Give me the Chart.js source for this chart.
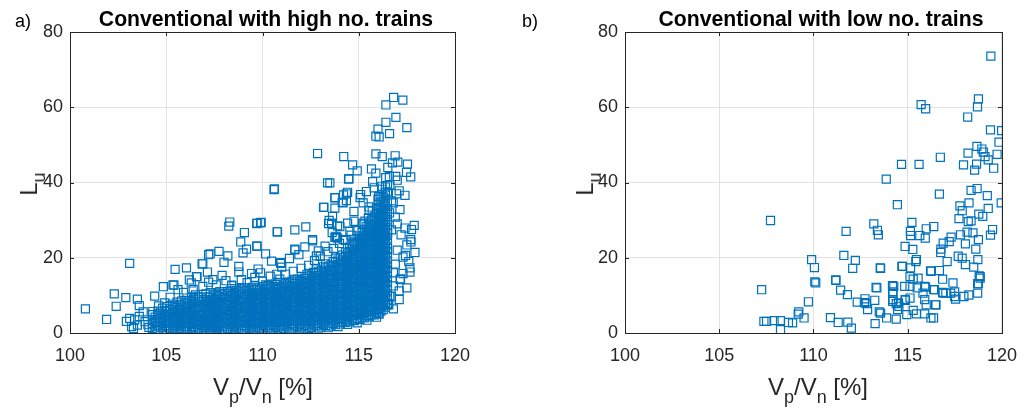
<!DOCTYPE html>
<html>
<head>
<meta charset="utf-8">
<script src="https://cdn.jsdelivr.net/npm/chart.js@4.4.0/dist/chart.umd.min.js"></script>
<style>
  body { margin: 0; width: 1029px; height: 412px; background: #fff; position: relative; overflow: hidden;
         font-family: "Liberation Sans", Arial, sans-serif; color: #262626; }
  .box { position: absolute; top: 0; height: 412px; }
  #boxA { left: 0; width: 515px; }
  #boxB { left: 515px; width: 514px; }
  .txt { position: absolute; white-space: nowrap; line-height: 1; }
  .panel { font-size: 18px; color: #000; top: 12px; }
  .title { font-size: 21.2px; font-weight: bold; color: #000; top: 8px; transform: translateX(-50%); }
  .xlab { font-size: 24px; top: 375px; transform: translateX(-50%); }
  .ylab { font-size: 24px; transform: translate(-50%, -50%) rotate(-90deg); }
  sub { font-size: 18px; vertical-align: -8px; line-height: 0; }
</style>
</head>
<body>
<div class="box" id="boxA"><canvas id="chartA"></canvas></div>
<div class="box" id="boxB"><canvas id="chartB"></canvas></div>

<div class="txt panel" style="left:15px">a)</div>
<div class="txt panel" style="left:522px">b)</div>
<div class="txt title" style="left:266px">Conventional with high no. trains</div>
<div class="txt title" style="left:821px">Conventional with low no. trains</div>
<div class="txt ylab" style="left:29px; top:184px">L<sub>u</sub></div>
<div class="txt ylab" style="left:585px; top:184px">L<sub>u</sub></div>
<div class="txt xlab" style="left:263px">V<sub>p</sub>/V<sub>n</sub> [%]</div>
<div class="txt xlab" style="left:818px">V<sub>p</sub>/V<sub>n</sub> [%]</div>

<script>
// axis ticks
const xTicks = [100, 105, 110, 115, 120];
const yTicks = [0, 20, 40, 60, 80];

// a) high no. trains - scattered points [Vp/Vn, Lu]
const highSparse = [
  [100.8,6.4],[101.9,3.6],[102.3,10.4],[102.4,7.1],[102.9,9.4],[103.5,9.0],[103.6,7.3],[103.1,18.5],
  [104.4,9.8],[104.85,12.3],[105.46,16.9],[106.05,17.3],[105.4,12.7],[106.6,15.0],[106.9,18.4],[107.2,20.8],
  [103.2,1.7],[103.36,3.5],[102.93,3.1],[103.6,4.4],[104.05,2.2],[104.3,5.7],[104.92,8.0],[105.35,12.8],
  [105.61,11.5],[106.3,13.3],[106.57,15.0],[103.1,3.9],[103.3,1.2],[103.9,3.0],[104.1,1.5],[103.8,5.6],[103.5,2.1],
  [110.6,38.1],[108.3,29.5],[108.25,28.4],[109.7,29.1],[109.9,29.3],[109.06,26.7],[110.76,26.9],[111.68,27.4],
  [112.25,28.2],[108.87,24.2],[109.17,22.3],[109.7,23.1],[112.6,24.5],[113.25,23.1],[111.68,22.1],[107.28,21.0],
  [107.74,21.7],[108.2,20.5],[108.0,18.8],[106.86,18.4],[108.99,21.3],[110.16,21.0],[110.47,19.1],[110.95,18.7],
  [109.77,17.0],[108.77,17.7],[108.77,16.2],[113.17,33.4],[113.64,31.0],[113.43,29.1],[113.81,25.7],[112.8,20.5],
  [111.89,20.8],[110.74,15.6],[107.14,16.2],[107.42,14.2],[108.39,12.7],[109.43,15.8],
  [112.86,47.7],[114.22,46.9],[114.68,44.7],[114.92,43.1],[113.38,39.9],[114.47,40.9],[110.62,38.3],
  [116.81,62.6],[117.29,61.9],[116.41,60.6],[116.93,57.3],[116.41,56.0],[117.5,54.6],[116.0,54.2],[115.89,52.3],
  [116.06,52.1],[116.6,53.0],[115.89,47.6],[116.22,46.9],[116.89,47.1],[115.66,43.6],[116.51,44.0],[116.75,45.2],
  [117.03,45.4],[117.53,44.9],[115.89,42.5],[117.48,42.7],[116.59,41.6],[116.92,41.6],[117.7,41.5],[117.0,40.6],
  [115.72,40.2],[114.49,41.0],[113.5,39.9],
  [117.92,21.4],[117.66,17.3],[117.66,16.2],[117.17,14.4],[117.1,11.2],[116.7,9.7],[116.56,7.5],[116.06,5.0],
  [117.5,23.4],[117.7,24.8],[117.88,28.6],[117.74,27.5],[117.4,27.9],[117.4,36.6],[116.96,37.0],[116.79,34.6],
  [117.14,32.8],[116.05,36.3],[115.54,32.6],[115.23,34.6],[115.1,36.8],[114.75,32.3],[114.36,37.0],[114.19,34.6],
  [113.76,35.9],[113.76,33.2],[113.59,29.2],[114.02,28.3],[114.75,29.7],[115.32,29.7],[115.93,26.1],[113.85,25.5],
  [114.54,27.0],[114.8,23.9],[113.77,36.0],[114.21,36.7],[114.42,37.4],[113.19,33.4],[114.14,34.7],[114.36,35.2],
  [115.07,36.0],[115.4,37.6],[115.53,33.5],[116.03,36.3],[113.46,29.9],[113.9,28.5],[114.42,29.2],[115.23,29.2],
  [109.72,29.2],[109.93,29.4],[110.78,26.9],[112.6,24.8],[113.76,25.4],[114.19,24.8],[113.62,26.7],[115.98,26.3],
  [116.5,26.6],[117.71,24.2],[117.43,20.6],[117.15,14.2],[116.61,9.7],[116.53,7.8],[110.95,18.5],[109.72,23.1],
  [111.68,22.3],[116.8,12.5],[116.9,18.3],[117.0,22.0],[117.2,26.1],[117.3,15.8],[116.7,27.4],[116.9,30.8],
  [117.1,8.9],[116.8,6.4],[117.3,20.2],[117.6,19.0],[117.5,12.0],[116.6,31.9],[116.7,35.1],[117.1,37.8],
  [116.62,39.4],[116.4,41.3],[116.2,39.0],[115.8,38.6],[116.8,16.0],[117.0,29.0],
  [105.2,9.5],[105.9,10.8],[106.4,11.6],[106.9,12.4],[107.2,13.5],[107.6,12.8],[108.1,13.9],[108.4,12.6],
  [108.9,14.2],[109.2,13.4],[109.6,14.8],[110.0,13.8],[110.4,15.1],[110.9,14.3],[111.2,15.6],[111.6,16.4],
  [112.0,17.2],[112.4,18.0],[112.7,19.3],[113.0,20.4],[113.4,21.6],[113.7,22.5],[114.0,23.8],[114.3,24.6],
  [114.6,26.0],[114.9,27.2],[115.2,28.9],[115.5,30.6],[115.7,32.4],[116.0,35.5],[116.2,38.2],[106.2,14.1],
  [107.9,15.3],[109.9,16.0],[111.0,17.5],[112.9,21.8],[113.9,25.2],[104.6,7.2],[111.4,19.8],[112.2,22.9]
];

// a) the dense cloud, column by column: Vp/Vn of each column and its Lu values
const highCoreV = [
  104.28, 104.57, 104.81, 105.04, 105.33, 105.56, 105.79, 106.07, 106.31, 106.52,
  106.83, 107.06, 107.29, 107.57, 107.78, 108.04, 108.32, 108.55, 108.77, 109.06,
  109.31, 109.53, 109.82, 110.04, 110.29, 110.56, 110.78, 111.07, 111.28, 111.54,
  111.81, 112.03, 112.31, 112.54, 112.79, 113.06, 113.28, 113.56, 113.79, 114.04,
  114.31, 114.53, 114.78, 115.06, 115.29, 115.54, 115.81, 116.03, 116.27, 116.49
];
const highCoreL = [
  [1.2, 2.5, 3.4, 4.9],
  [0.9, 2.1, 3.2, 4.6, 5.8],
  [1.5, 2.6, 4.0, 5.1, 6.6],
  [0.8, 1.9, 3.2, 4.3, 5.7, 7.0],
  [1.3, 2.4, 3.8, 5.1, 6.2, 7.7],
  [0.7, 1.9, 3.0, 4.4, 5.5, 6.8, 8.2],
  [1.1, 2.2, 3.6, 4.8, 6.0, 7.4, 8.5],
  [0.6, 1.8, 2.9, 4.1, 5.5, 6.7, 7.9, 9.3],
  [1.0, 2.3, 3.4, 4.6, 5.9, 7.3, 8.4, 9.6],
  [0.5, 1.6, 2.9, 4.0, 5.3, 6.5, 7.9, 9.0, 10.1],
  [0.9, 2.0, 3.3, 4.7, 5.8, 7.0, 8.4, 9.5],
  [0.4, 1.6, 2.7, 3.9, 5.2, 6.6, 7.7, 8.9, 10.4],
  [0.8, 2.0, 3.3, 4.4, 5.7, 7.1, 8.2, 9.5, 10.7],
  [0.5, 1.7, 2.8, 4.2, 5.3, 6.6, 8.0, 9.1, 10.3],
  [0.9, 2.1, 3.5, 4.6, 5.9, 7.2, 8.3, 9.7, 11.0],
  [0.6, 1.8, 3.0, 4.3, 5.6, 6.7, 8.0, 9.4, 10.5],
  [1.0, 2.2, 3.5, 4.8, 6.0, 7.4, 8.5, 9.8, 11.2],
  [0.7, 1.9, 3.2, 4.4, 5.6, 6.9, 8.2, 9.3, 10.7, 11.8],
  [1.1, 2.4, 3.5, 4.9, 6.2, 7.3, 8.6, 10.0, 11.1],
  [0.8, 2.0, 3.3, 4.5, 5.7, 7.0, 8.3, 9.5, 10.9, 12.0],
  [1.2, 2.4, 3.7, 5.0, 6.3, 7.5, 8.8, 10.0, 11.3],
  [0.9, 2.2, 3.3, 4.6, 5.9, 7.1, 8.4, 9.7, 10.8, 12.2],
  [1.3, 2.5, 3.8, 5.1, 6.3, 7.7, 8.9, 10.1, 11.4],
  [1.0, 2.2, 3.5, 4.7, 5.9, 7.2, 8.5, 9.6, 11.0, 12.3],
  [1.4, 2.7, 3.9, 5.1, 6.4, 7.7, 9.0, 10.3, 11.5, 12.6],
  [1.1, 2.3, 3.6, 4.8, 6.1, 7.3, 8.6, 9.8, 11.1, 12.4],
  [1.5, 2.8, 4.0, 5.3, 6.5, 7.8, 9.1, 10.3, 11.6, 12.9],
  [1.2, 2.4, 3.7, 4.9, 6.2, 7.4, 8.7, 9.9, 11.2, 12.5],
  [1.6, 2.9, 4.1, 5.4, 6.6, 7.9, 9.2, 10.4, 11.7, 13.0],
  [1.3, 2.5, 3.8, 5.0, 6.2, 7.5, 8.8, 10.0, 11.3, 12.6, 13.8],
  [1.7, 3.0, 4.2, 5.5, 6.8, 8.0, 9.3, 10.6, 11.8, 13.1, 14.3],
  [1.4, 2.6, 3.8, 5.1, 6.3, 7.6, 8.9, 10.1, 11.4, 12.7, 14.0],
  [1.8, 3.1, 4.3, 5.6, 6.8, 8.1, 9.4, 10.6, 11.9, 13.2, 14.5, 15.6],
  [1.5, 2.7, 3.9, 5.2, 6.4, 7.7, 9.0, 10.2, 11.5, 12.8, 14.1, 15.3],
  [1.9, 3.2, 4.4, 5.7, 6.9, 8.2, 9.5, 10.7, 12.0, 13.3, 14.6, 15.9, 17.0],
  [1.6, 2.8, 4.0, 5.3, 6.5, 7.8, 9.1, 10.3, 11.6, 12.9, 14.2, 15.4, 16.7],
  [2.0, 3.3, 4.5, 5.8, 7.0, 8.3, 9.6, 10.8, 12.1, 13.4, 14.7, 16.0, 17.3, 18.4],
  [1.8, 3.0, 4.2, 5.5, 6.7, 8.0, 9.3, 10.5, 11.8, 13.1, 14.4, 15.6, 16.9, 18.1],
  [2.2, 3.5, 4.7, 6.0, 7.2, 8.5, 9.8, 11.0, 12.3, 13.6, 14.9, 16.2, 17.5, 18.8, 19.9],
  [2.4, 3.6, 4.8, 6.1, 7.3, 8.6, 9.9, 11.1, 12.4, 13.7, 15.0, 16.2, 17.5, 18.7, 20.0],
  [2.8, 4.0, 5.3, 6.5, 7.8, 9.0, 10.3, 11.5, 12.8, 14.0, 15.3, 16.5, 17.8, 19.0, 20.3, 21.5],
  [3.0, 4.2, 5.5, 6.7, 8.0, 9.2, 10.5, 11.7, 13.0, 14.2, 15.5, 16.7, 18.0, 19.2, 20.5, 21.7, 22.8],
  [3.3, 4.6, 5.8, 7.1, 8.3, 9.6, 10.8, 12.1, 13.3, 14.6, 15.8, 17.1, 18.3, 19.6, 20.8, 22.1, 23.3, 24.4],
  [3.6, 4.9, 6.1, 7.4, 8.6, 9.9, 11.1, 12.4, 13.6, 14.9, 16.1, 17.4, 18.6, 19.9, 21.1, 22.4, 23.6, 24.9, 25.8],
  [4.0, 5.2, 6.5, 7.7, 9.0, 10.2, 11.5, 12.7, 14.0, 15.2, 16.5, 17.7, 19.0, 20.2, 21.5, 22.7, 24.0, 25.2, 26.5, 27.5],
  [4.3, 5.6, 6.8, 8.1, 9.3, 10.6, 11.8, 13.1, 14.3, 15.6, 16.8, 18.1, 19.3, 20.6, 21.8, 23.1, 24.3, 25.6, 26.8, 28.1, 29.2],
  [4.8, 6.0, 7.3, 8.5, 9.8, 11.0, 12.3, 13.5, 14.8, 16.0, 17.3, 18.5, 19.8, 21.0, 22.3, 23.5, 24.8, 26.0, 27.3, 28.5, 29.8, 31.0],
  [5.3, 6.5, 7.8, 9.0, 10.3, 11.5, 12.8, 14.0, 15.3, 16.5, 17.8, 19.0, 20.3, 21.5, 22.8, 24.0, 25.3, 26.5, 27.8, 29.0, 30.3, 31.5, 32.8, 34.0],
  [6.2, 7.4, 8.7, 9.9, 11.2, 12.4, 13.7, 14.9, 16.2, 17.4, 18.7, 19.9, 21.2, 22.4, 23.7, 24.9, 26.2, 27.4, 28.7, 29.9, 31.2, 32.4, 33.7, 35.0, 36.2],
  [7.5, 8.8, 10.0, 11.3, 12.5, 13.8, 15.0, 16.3, 17.5, 18.8, 20.0, 21.3, 22.5, 23.8, 25.0, 26.3, 27.5, 28.8, 30.1, 31.5, 33.0, 34.8, 37.5, 39.2]
];

// a) second pass through the cloud, in between the columns above
const highFillV = [
  104.42, 104.69, 104.93, 105.18, 105.44, 105.68, 105.93, 106.19, 106.41, 106.67,
  106.95, 107.17, 107.43, 107.67, 107.91, 108.18, 108.43, 108.66, 108.92, 109.18,
  109.42, 109.67, 109.93, 110.17, 110.42, 110.67, 110.92, 111.17, 111.41, 111.67,
  111.92, 112.17, 112.42, 112.66, 112.92, 113.17, 113.42, 113.67, 113.92, 114.17,
  114.42, 114.66, 114.92, 115.17, 115.42, 115.67, 115.92, 116.15, 116.38
];
const highFillL = [
  [0.6, 1.8, 3.0, 4.2],
  [1.4, 2.7, 3.9, 5.3],
  [0.5, 2.0, 3.3, 4.6, 5.9],
  [1.3, 2.6, 3.8, 5.0, 6.4],
  [0.6, 1.9, 3.1, 4.5, 5.7, 7.0],
  [1.2, 2.5, 3.7, 4.9, 6.2, 7.5],
  [0.5, 1.7, 2.9, 4.2, 5.4, 6.7, 8.0],
  [1.2, 2.4, 3.6, 4.8, 6.1, 7.3, 8.6],
  [0.5, 1.7, 2.9, 4.1, 5.3, 6.6, 7.8, 9.0],
  [1.1, 2.3, 3.5, 4.7, 5.9, 7.2, 8.4, 9.6],
  [0.4, 1.5, 2.7, 3.9, 5.2, 6.4, 7.7, 8.9],
  [1.0, 2.2, 3.4, 4.6, 5.8, 7.1, 8.4, 9.6],
  [0.4, 1.5, 2.7, 3.9, 5.1, 6.4, 7.6, 8.9, 10.1],
  [1.1, 2.3, 3.5, 4.8, 6.0, 7.3, 8.5, 9.8],
  [0.5, 1.6, 2.8, 4.0, 5.3, 6.5, 7.8, 9.1, 10.3],
  [1.2, 2.4, 3.6, 4.9, 6.1, 7.4, 8.7, 9.9, 11.0],
  [0.5, 1.6, 2.9, 4.1, 5.4, 6.7, 7.9, 9.2, 10.4],
  [1.3, 2.5, 3.8, 5.0, 6.3, 7.5, 8.8, 10.1, 11.3],
  [0.6, 1.8, 3.0, 4.3, 5.5, 6.8, 8.0, 9.3, 10.5, 11.7],
  [1.4, 2.6, 3.9, 5.1, 6.4, 7.6, 8.9, 10.2, 11.4],
  [0.6, 1.8, 3.1, 4.3, 5.6, 6.9, 8.1, 9.4, 10.6, 11.9],
  [1.5, 2.8, 4.0, 5.2, 6.5, 7.8, 9.0, 10.3, 11.6],
  [0.7, 1.9, 3.1, 4.4, 5.6, 6.9, 8.2, 9.4, 10.7, 11.9],
  [1.6, 2.9, 4.1, 5.3, 6.6, 7.9, 9.1, 10.4, 11.7, 12.8],
  [0.8, 2.0, 3.3, 4.5, 5.8, 7.1, 8.3, 9.6, 10.9, 12.1],
  [1.7, 2.9, 4.2, 5.4, 6.7, 8.0, 9.2, 10.5, 11.8, 13.0],
  [0.9, 2.1, 3.4, 4.6, 5.9, 7.2, 8.4, 9.7, 11.0, 12.2],
  [1.8, 3.0, 4.3, 5.5, 6.8, 8.1, 9.3, 10.6, 11.9, 13.2],
  [1.0, 2.2, 3.5, 4.7, 6.0, 7.3, 8.5, 9.8, 11.1, 12.3, 13.5],
  [1.9, 3.1, 4.4, 5.6, 6.9, 8.2, 9.4, 10.7, 12.0, 13.2, 14.2],
  [1.1, 2.3, 3.6, 4.8, 6.1, 7.4, 8.6, 9.9, 11.2, 12.4, 13.7],
  [2.0, 3.2, 4.5, 5.7, 7.0, 8.3, 9.5, 10.8, 12.1, 13.4, 14.6],
  [1.2, 2.4, 3.7, 4.9, 6.2, 7.5, 8.7, 10.0, 11.3, 12.5, 13.8, 15.1],
  [2.1, 3.3, 4.6, 5.8, 7.1, 8.4, 9.6, 10.9, 12.2, 13.5, 14.8, 16.1],
  [1.3, 2.5, 3.8, 5.0, 6.3, 7.6, 8.8, 10.1, 11.4, 12.7, 14.0, 15.3, 16.4],
  [2.2, 3.4, 4.7, 5.9, 7.2, 8.5, 9.7, 11.0, 12.3, 13.6, 14.9, 16.1, 17.6],
  [1.4, 2.6, 3.9, 5.1, 6.4, 7.7, 8.9, 10.2, 11.5, 12.8, 14.1, 15.3, 16.6, 17.8],
  [2.5, 3.7, 5.0, 6.2, 7.5, 8.8, 10.0, 11.3, 12.6, 13.9, 15.2, 16.4, 17.7, 19.0],
  [1.7, 2.9, 4.2, 5.4, 6.7, 8.0, 9.2, 10.5, 11.8, 13.1, 14.4, 15.6, 16.9, 18.2, 19.4],
  [3.0, 4.2, 5.5, 6.7, 8.0, 9.3, 10.5, 11.8, 13.1, 14.4, 15.6, 16.9, 18.2, 19.4, 20.7],
  [2.3, 3.5, 4.8, 6.0, 7.3, 8.6, 9.8, 11.1, 12.4, 13.6, 14.9, 16.2, 17.4, 18.7, 19.9, 21.2],
  [3.5, 4.7, 6.0, 7.2, 8.5, 9.8, 11.0, 12.3, 13.6, 14.8, 16.1, 17.4, 18.6, 19.9, 21.1, 22.3, 23.6],
  [2.7, 3.9, 5.2, 6.4, 7.7, 9.0, 10.2, 11.5, 12.7, 14.0, 15.3, 16.5, 17.8, 19.0, 20.3, 21.5, 22.8, 24.1],
  [4.2, 5.4, 6.7, 7.9, 9.2, 10.5, 11.7, 13.0, 14.2, 15.5, 16.8, 18.0, 19.3, 20.5, 21.8, 23.0, 24.3, 25.5, 26.7],
  [3.4, 4.6, 5.9, 7.1, 8.4, 9.6, 10.9, 12.1, 13.4, 14.6, 15.9, 17.1, 18.4, 19.6, 20.9, 22.1, 23.4, 24.6, 25.9, 27.1, 28.3],
  [4.9, 6.2, 7.4, 8.7, 9.9, 11.2, 12.4, 13.7, 14.9, 16.2, 17.4, 18.7, 19.9, 21.2, 22.4, 23.7, 24.9, 26.2, 27.4, 28.7, 30.0],
  [4.2, 5.4, 6.7, 7.9, 9.2, 10.4, 11.7, 12.9, 14.2, 15.4, 16.7, 17.9, 19.2, 20.4, 21.7, 22.9, 24.2, 25.4, 26.7, 27.9, 29.2, 30.4, 31.8, 33.1],
  [5.8, 7.1, 8.3, 9.6, 10.8, 12.1, 13.3, 14.6, 15.8, 17.1, 18.3, 19.6, 20.8, 22.1, 23.3, 24.6, 25.8, 27.1, 28.3, 29.6, 30.8, 32.1, 33.4, 34.8, 36.3],
  [6.9, 8.1, 9.4, 10.6, 11.9, 13.1, 14.4, 15.6, 16.9, 18.1, 19.4, 20.6, 21.9, 23.1, 24.4, 25.6, 26.9, 28.1, 29.4, 30.6, 31.9, 33.1, 34.4, 35.8, 37.4, 38.8]
];

// b) low no. trains [Vp/Vn, Lu]
const lowPoints = [
  [119.41,73.6],[115.71,60.7],[115.95,59.6],[118.75,62.2],[118.7,60.1],[118.18,57.4],[119.39,54.0],[119.98,53.8],
  [119.84,50.7],[118.67,49.6],[118.93,48.9],[119.01,48.1],[119.74,47.5],[118.2,47.8],[119.1,46.9],[119.27,46.0],
  [116.73,46.7],[114.67,44.8],[115.6,44.8],[117.96,44.7],[118.65,44.9],[118.55,43.3],[119.56,43.8],[113.86,40.9],
  [116.68,36.9],[118.36,37.9],[118.68,38.4],[119.22,36.5],[119.96,34.6],[114.45,34.1],[117.77,33.8],[118.25,34.6],
  [117.89,32.5],[119.27,33.1],[118.77,31.6],[118.98,31.0],[117.72,30.4],[118.21,29.6],[118.36,29.8],[115.22,29.4],
  [107.72,29.9],[113.2,29.0],[111.73,27.0],[113.39,27.3],[113.44,26.1],[116.38,28.3],[115.98,27.7],[115.14,27.0],
  [115.15,25.9],[115.64,25.9],[115.93,25.2],[117.3,25.5],[117.8,26.1],[118.15,26.8],[118.46,26.6],[118.75,24.8],
  [119.39,26.0],[119.5,27.5],[118.06,23.7],[118.61,22.3],[116.88,23.9],[116.76,22.3],[116.75,21.4],[114.86,23.0],
  [115.27,22.2],[117.2,24.3],[117.68,20.4],[117.89,19.9],[117.09,19.0],[118.72,19.5],[109.9,19.5],[110.05,17.4],
  [110.07,13.6],[111.61,20.6],[112.22,19.3],[112.08,17.2],[113.54,17.3],[114.72,17.7],[115.43,19.0],[115.15,17.3],
  [116.21,16.5],[116.68,16.6],[118.06,18.2],[118.5,17.5],[118.79,15.2],[118.84,14.6],[118.71,13.1],[118.71,10.6],
  [118.24,10.1],[117.98,9.7],[117.49,10.9],[117.28,10.6],[116.85,10.8],[116.37,11.5],[115.95,12.2],[115.5,12.0],
  [115.12,12.4],[114.84,12.4],[114.26,12.4],[114.2,10.6],[113.32,12.1],[111.18,14.1],[111.44,11.4],[111.8,10.2],
  [107.25,11.5],[109.73,8.3],[112.32,8.2],[112.73,9.1],[112.8,7.8],[112.87,6.2],[113.25,8.7],[113.49,5.6],
  [113.56,5.3],[114.2,8.4],[114.39,7.8],[114.53,7.1],[114.46,6.2],[114.88,8.7],[115.12,9.3],[115.81,10.6],
  [115.9,8.9],[115.98,7.5],[116.42,11.5],[116.5,7.5],[116.88,10.6],[117.49,9.7],[115.29,6.0],[115.46,5.1],
  [115.9,5.1],[116.23,4.0],[116.37,4.0],[114.95,4.9],[114.39,3.7],[113.88,4.0],[113.27,2.5],[112.01,1.3],
  [111.82,2.9],[111.31,2.8],[110.9,4.1],[109.5,4.0],[109.22,5.6],[109.19,5.0],[108.89,2.7],[108.67,2.8],
  [108.25,0.9],[108.25,3.3],[107.91,3.3],[107.51,3.1],[107.37,3.1],[112.7,8.1],[110.12,13.3],[111.19,14.0],
  [113.36,12.0],[113.56,17.2],[114.19,12.6],[114.22,10.9],[114.22,8.9],[114.51,8.0],[114.69,17.7],[114.86,8.9],
  [115.12,15.0],[115.29,14.3],[115.46,19.5],[115.55,14.6],[115.9,12.4],[116.24,16.4],[116.47,7.5],[116.85,14.3],
  [117.02,10.6],[117.4,13.3],[117.54,9.0],[118.75,13.1],[118.84,15.0]
];

const toXY = p => ({ x: p[0], y: p[1] });

let highPoints = highSparse.map(toXY);
highCoreV.forEach((v, i) => {
  highCoreL[i].forEach(l => highPoints.push({ x: v, y: l }));
});
highFillV.forEach((v, i) => {
  highFillL[i].forEach(l => highPoints.push({ x: v, y: l }));
});
const lowData = lowPoints.map(toXY);

// box round the axes with short inward ticks, like the matlab figure
const boxTicks = {
  id: 'boxTicks',
  afterDraw(chart) {
    const { ctx, chartArea: a, scales: { x, y } } = chart;
    ctx.save();
    ctx.strokeStyle = '#262626';
    ctx.lineWidth = 1;
    ctx.strokeRect(Math.round(a.left) + 0.5, Math.round(a.top) + 0.5,
                   Math.round(a.right - a.left), Math.round(a.bottom - a.top));
    ctx.beginPath();
    x.ticks.forEach(t => {
      const px = Math.round(x.getPixelForValue(t.value)) + 0.5;
      ctx.moveTo(px, a.bottom); ctx.lineTo(px, a.bottom - 4);
      ctx.moveTo(px, a.top); ctx.lineTo(px, a.top + 4);
    });
    y.ticks.forEach(t => {
      const py = Math.round(y.getPixelForValue(t.value)) + 0.5;
      ctx.moveTo(a.left, py); ctx.lineTo(a.left + 4, py);
      ctx.moveTo(a.right, py); ctx.lineTo(a.right - 4, py);
    });
    ctx.stroke();
    ctx.restore();
  }
};

function makeChart(id, points, yAxisWidth, rightPad) {
  const tickFont = { family: '"Liberation Sans", Arial, sans-serif', size: 18 };
  return new Chart(document.getElementById(id), {
    type: 'scatter',
    data: {
      datasets: [{
        data: points,
        pointStyle: 'rect',
        pointRadius: 5.7,
        borderWidth: 1.2,
        borderColor: '#0072BD',
        backgroundColor: 'rgba(0,0,0,0)'
      }]
    },
    options: {
      responsive: true,
      maintainAspectRatio: false,
      animation: false,
      events: [],
      layout: { padding: { top: 32, right: rightPad, bottom: 0, left: 0 } },
      plugins: { legend: { display: false }, tooltip: { enabled: false } },
      scales: {
        x: {
          type: 'linear',
          min: xTicks[0],
          max: xTicks[xTicks.length - 1],
          afterBuildTicks: s => { s.ticks = xTicks.map(v => ({ value: v })); },
          afterFit: s => { s.height = 79; },
          grid: { color: '#e2e2e2', drawTicks: false },
          border: { display: false },
          ticks: { font: tickFont, color: '#262626', padding: 12, maxRotation: 0 }
        },
        y: {
          type: 'linear',
          min: yTicks[0],
          max: yTicks[yTicks.length - 1],
          afterBuildTicks: s => { s.ticks = yTicks.map(v => ({ value: v })); },
          afterFit: s => { s.width = yAxisWidth; },
          grid: { color: '#e2e2e2', drawTicks: false },
          border: { display: false },
          ticks: { font: tickFont, color: '#262626', padding: 7 }
        }
      }
    },
    plugins: [boxTicks]
  });
}

makeChart('chartA', highPoints, 70, 60);
makeChart('chartB', lowData, 110, 18);
</script>
</body>
</html>
